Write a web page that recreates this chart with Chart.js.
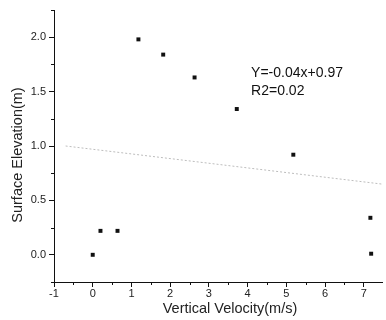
<!DOCTYPE html>
<html>
<head>
<meta charset="utf-8">
<script src="https://cdn.jsdelivr.net/npm/chart.js@4"></script>
<style>
  html, body { margin: 0; padding: 0; background: #fff; }
  #wrap { width: 386px; height: 320px; }
</style>
</head>
<body>
<div id="wrap"><canvas id="chart" width="386" height="320"></canvas></div>
<script>
// data
var velocity = [0, 0.2, 0.64, 1.18, 1.82, 2.63, 3.72, 5.18, 7.17, 7.19];
var elevation = [0, 0.22, 0.22, 1.98, 1.84, 1.63, 1.34, 0.92, 0.34, 0.01];
var fitX = [-0.7, 7.47];
var fitY = [1.0, 0.65];
var fitText = ["Y=-0.04x+0.97", "R2=0.02"];
var xTicks = [-1, 0, 1, 2, 3, 4, 5, 6, 7];
var yTicks = [0, 0.5, 1, 1.5, 2];
var xTitle = "Vertical Velocity(m/s)";
var yTitle = "Surface Elevation(m)";

var points = velocity.map(function (v, i) { return { x: v, y: elevation[i] }; });
var fitLine = fitX.map(function (v, i) { return { x: v, y: fitY[i] }; });

var font = "'Liberation Sans', Arial, sans-serif";

// minor ticks, axis titles, equation label
var extras = {
  id: "extras",
  afterDraw: function (chart) {
    var c = chart.ctx;
    var xs = chart.scales.x, ys = chart.scales.y;
    c.save();
    c.strokeStyle = "#111";
    c.lineWidth = 1;
    c.beginPath();
    for (var v = -0.5; v < 7.5; v += 1) {
      var px = Math.round(xs.getPixelForValue(v)) + 0.5;
      c.moveTo(px, xs.top);
      c.lineTo(px, xs.top + 3);
    }
    for (var w = -0.25; w <= 2.25; w += 0.5) {
      var py = Math.round(ys.getPixelForValue(w)) + 0.5;
      c.moveTo(ys.right, py);
      c.lineTo(ys.right - 3, py);
    }
    c.stroke();

    c.fillStyle = "#111";
    c.font = "14px " + font;
    c.textBaseline = "middle";
    c.fillText(fitText[0], xs.getPixelForValue(4.09), ys.getPixelForValue(1.67));
    c.fillText(fitText[1], xs.getPixelForValue(4.09), ys.getPixelForValue(1.50));

    c.fillStyle = "#222";
    c.font = "14.5px " + font;
    c.textAlign = "center";
    c.fillText(xTitle, 230, 309);
    c.translate(18, 155);
    c.rotate(-Math.PI / 2);
    c.fillText(yTitle, 0, 0);
    c.restore();
  }
};

new Chart(document.getElementById("chart"), {
  type: "scatter",
  data: {
    datasets: [
      {
        data: fitLine,
        showLine: true,
        borderColor: "#bdbdbd",
        borderWidth: 1,
        borderDash: [2, 2],
        pointRadius: 0
      },
      {
        data: points,
        pointStyle: "rect",
        pointRadius: 2.8,
        backgroundColor: "#111",
        borderColor: "#111",
        borderWidth: 0
      }
    ]
  },
  options: {
    responsive: false,
    animation: false,
    layout: { padding: { top: 10, right: 0, left: 0, bottom: 0 } },
    plugins: { legend: { display: false }, tooltip: { enabled: false } },
    scales: {
      x: {
        type: "linear",
        min: -1,
        max: 7.47,
        afterBuildTicks: function (s) { s.ticks = xTicks.map(function (v) { return { value: v }; }); },
        afterFit: function (s) { s.height = 38; },
        border: { color: "#111", width: 1 },
        grid: { drawOnChartArea: false, tickLength: 5, tickColor: "#111" },
        ticks: {
          color: "#222",
          padding: 0,
          maxRotation: 0,
          autoSkip: false,
          font: { family: font, size: 11 },
          callback: function (v) { return String(v); }
        }
      },
      y: {
        type: "linear",
        min: -0.25,
        max: 2.25,
        afterBuildTicks: function (s) { s.ticks = yTicks.map(function (v) { return { value: v }; }); },
        afterFit: function (s) { s.width = 54; },
        border: { color: "#111", width: 1 },
        grid: { drawOnChartArea: false, tickLength: 5, tickColor: "#111" },
        ticks: {
          color: "#222",
          padding: 3,
          autoSkip: false,
          font: { family: font, size: 11 },
          callback: function (v) { return v.toFixed(1); }
        }
      }
    }
  },
  plugins: [extras]
});
</script>
</body>
</html>
